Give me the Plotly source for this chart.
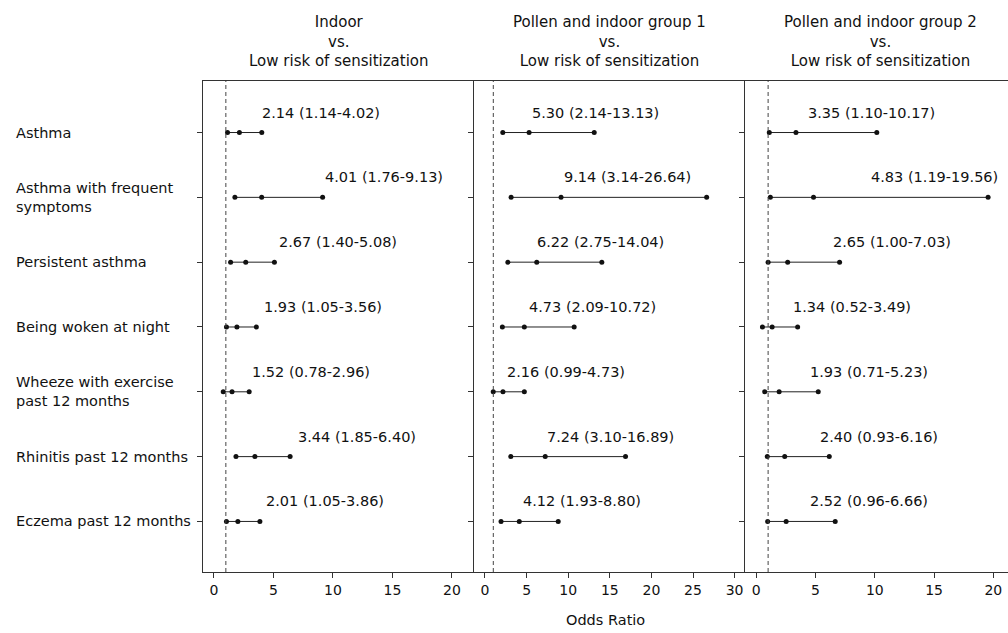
import plotly.graph_objects as go

# ---------------- data ----------------
outcomes = ["Asthma", "Asthma with frequent<br>symptoms", "Persistent asthma",
            "Being woken at night", "Wheeze with exercise<br>past 12 months",
            "Rhinitis past 12 months", "Eczema past 12 months"]

panel_titles = ["Indoor<br>vs.<br>Low risk of sensitization",
                "Pollen and indoor group 1<br>vs.<br>Low risk of sensitization",
                "Pollen and indoor group 2<br>vs.<br>Low risk of sensitization"]

or_indoor = [2.14, 4.01, 2.67, 1.93, 1.52, 3.44, 2.01]
lo_indoor = [1.14, 1.76, 1.40, 1.05, 0.78, 1.85, 1.05]
hi_indoor = [4.02, 9.13, 5.08, 3.56, 2.96, 6.40, 3.86]

or_g1 = [5.30, 9.14, 6.22, 4.73, 2.16, 7.24, 4.12]
lo_g1 = [2.14, 3.14, 2.75, 2.09, 0.99, 3.10, 1.93]
hi_g1 = [13.13, 26.64, 14.04, 10.72, 4.73, 16.89, 8.80]

or_g2 = [3.35, 4.83, 2.65, 1.34, 1.93, 2.40, 2.52]
lo_g2 = [1.10, 1.19, 1.00, 0.52, 0.71, 0.93, 0.96]
hi_g2 = [10.17, 19.56, 7.03, 3.49, 5.23, 6.16, 6.66]

tick_vals_1 = [0, 5, 10, 15, 20]
tick_vals_2 = [0, 5, 10, 15, 20, 25, 30]
tick_vals_3 = [0, 5, 10, 15, 20]
null_value = 1

# ---------------- layout / style (positions) ----------------
W, H = 1008, 633
ML, MR, MT, MB = 203, 0, 81, 61
domains = [[0.0, 0.33665], [0.33665, 0.6733], [0.6733, 1.0]]
xranges = [[-0.92, 21.85], [-1.32, 31.25], [-0.95, 21.24]]
# annotation x anchors (data units) for the estimate labels
label_x = [
    [3.86, 9.19, 5.27, 4.0, 3.0, 6.88, 4.19],
    [5.4, 9.2, 6.0, 5.0, 2.4, 7.2, 4.3],
    [4.17, 9.54, 6.28, 2.93, 4.34, 5.18, 4.34],
]
title_x_px = [338.5, 609.5, 880]

FONT = "DejaVu Sans"
TXT = "#111111"
LINE = "#333333"

panels = [(or_indoor, lo_indoor, hi_indoor, tick_vals_1),
          (or_g1, lo_g1, hi_g1, tick_vals_2),
          (or_g2, lo_g2, hi_g2, tick_vals_3)]

rows = list(range(1, len(outcomes) + 1))

fig = go.Figure()
annotations = []
shapes = []

for p, (ors, los, his, tvals) in enumerate(panels):
    xa = "x" if p == 0 else f"x{p+1}"
    ya = "y" if p == 0 else f"y{p+1}"
    xs, ys = [], []
    for r, o, lo, hi in zip(rows, ors, los, his):
        xs += [lo, o, hi, None]
        ys += [r, r, r, None]
    fig.add_trace(go.Scatter(x=xs, y=ys, mode="lines+markers",
                             line=dict(color="#222222", width=1),
                             marker=dict(color="#111111", size=5),
                             xaxis=xa, yaxis=ya, showlegend=False,
                             hoverinfo="skip"))
    # dashed null line
    shapes.append(dict(type="line", xref=xa, yref=f"{ya} domain",
                       x0=null_value, x1=null_value, y0=0, y1=1,
                       line=dict(color="#444444", width=1, dash="4px,3px")))
    # estimate labels
    for r, o, lo, hi, lx in zip(rows, ors, los, his, label_x[p]):
        annotations.append(dict(x=lx, y=r, xref=xa, yref=ya,
                                text=f"{o:.2f} ({lo:.2f}-{hi:.2f})",
                                showarrow=False, xanchor="left", yanchor="middle",
                                yshift=20, font=dict(family=FONT, size=14.5, color=TXT)))
    # panel title
    annotations.append(dict(x=(title_x_px[p] - ML) / (W - ML - MR), y=1 + 40 / (H - MT - MB),
                            xref="paper", yref="paper", text=panel_titles[p],
                            showarrow=False, xanchor="center", yanchor="middle",
                            align="center", font=dict(family=FONT, size=15, color=TXT)))

    axis_common = dict(showgrid=False, zeroline=False, showline=True,
                       linecolor=LINE, linewidth=1, ticks="outside",
                       ticklen=5, tickcolor=LINE)
    fig.update_layout(**{
        ("xaxis" if p == 0 else f"xaxis{p+1}"): dict(
            domain=domains[p], range=xranges[p], tickvals=tvals,
            mirror=True, anchor=ya,
            tickfont=dict(family=FONT, size=14, color=TXT), **axis_common),
        ("yaxis" if p == 0 else f"yaxis{p+1}"): dict(
            domain=[0, 1], range=[7.78, 0.205], tickvals=rows,
            ticktext=[""] * len(rows), anchor=xa, mirror=False, **axis_common),
    })

# row labels
for r, lab in zip(rows, outcomes):
    annotations.append(dict(x=(14 - ML) / (W - ML - MR), y=r, xref="paper", yref="y",
                            text=lab, showarrow=False, xanchor="left", yanchor="middle",
                            align="left", font=dict(family=FONT, size=14.5, color=TXT)))

# x-axis title
annotations.append(dict(x=0.5, y=-(620 - (H - MB)) / (H - MT - MB), xref="paper", yref="paper",
                        text="Odds Ratio", showarrow=False, xanchor="center", yanchor="middle",
                        font=dict(family=FONT, size=14.5, color=TXT)))

fig.update_layout(width=W, height=H, margin=dict(l=ML, r=MR, t=MT, b=MB),
                  plot_bgcolor="white", paper_bgcolor="white",
                  annotations=annotations, shapes=shapes, showlegend=False)

fig.write_html("out.html", config={"displayModeBar": False},
               post_script="document.body.style.margin='0';document.body.style.overflow='hidden';")
